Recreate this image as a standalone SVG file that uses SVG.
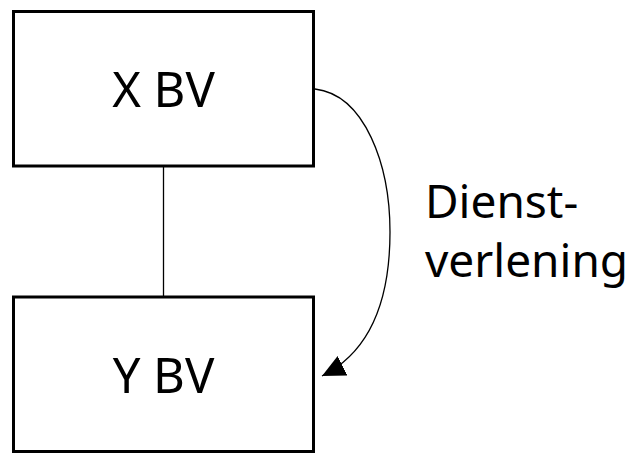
<svg xmlns="http://www.w3.org/2000/svg" width="632" height="454" viewBox="0 0 632 454">
<style>
.box{fill:#fff;stroke:#000;stroke-width:3}
.lbl{font-family:"Noto Sans",sans-serif;fill:#000}
.conn{fill:none;stroke:#000;stroke-width:1.3}
</style>
<defs>
<marker id="ah" markerUnits="userSpaceOnUse" markerWidth="24" markerHeight="24" viewBox="0 0 24 24" refX="23" refY="12" orient="auto">
<path d="M0,1 L23,12 L0,23 Z" fill="#000"/>
</marker>
</defs>
<rect width="632" height="454" fill="#fff"/>
<g id="connectors">
<line class="conn" x1="163.5" y1="166" x2="163.5" y2="297"/>
<path class="conn" d="M315,89 C365,95 390,165 390,232 C390,300 370,352 322,376" marker-end="url(#ah)"/>
</g>
<g id="nodeX">
<rect class="box" x="13.5" y="11.5" width="300" height="154.5"/>
<text class="lbl" x="163.5" y="107" font-size="49" text-anchor="middle">X BV</text>
</g>
<g id="nodeY">
<rect class="box" x="13.5" y="297" width="300" height="154.5"/>
<text class="lbl" x="163.5" y="393" font-size="49" text-anchor="middle">Y BV</text>
</g>
<g id="label">
<text class="lbl" x="425" y="218" font-size="46">Dienst-</text>
<text class="lbl" x="425" y="277" font-size="46">verlening</text>
</g>
</svg>
